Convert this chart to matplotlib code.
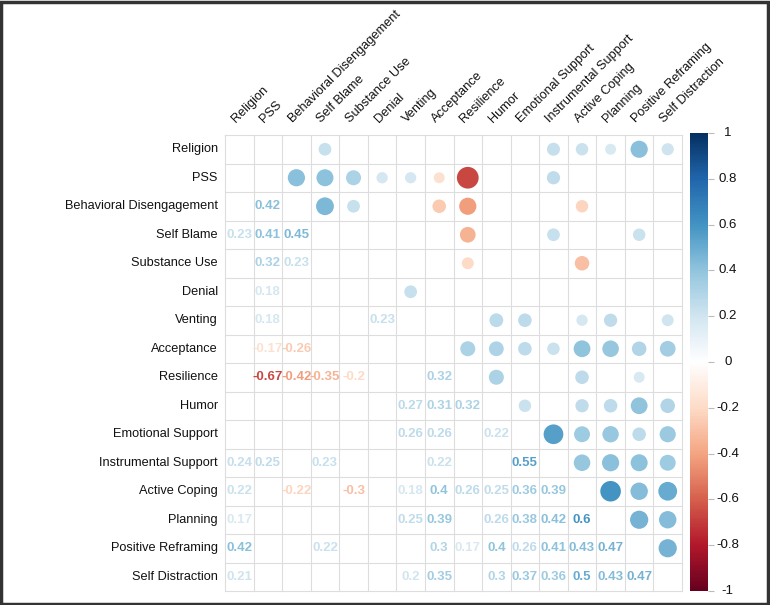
import numpy as np
import matplotlib
matplotlib.use("Agg")
import matplotlib.pyplot as plt
from matplotlib.colors import LinearSegmentedColormap, Normalize
from matplotlib.patches import Circle, Rectangle
from matplotlib.colorbar import ColorbarBase

variables = ["Religion", "PSS", "Behavioral Disengagement", "Self Blame", "Substance Use",
             "Denial", "Venting", "Acceptance", "Resilience", "Humor", "Emotional Support",
             "Instrumental Support", "Active Coping", "Planning", "Positive Reframing",
             "Self Distraction"]

# lower-triangle significant correlations: (row, col, r)
row_bd = [(2, 1, 0.42)]
row_sb = [(3, 0, 0.23), (3, 1, 0.41), (3, 2, 0.45)]
row_su = [(4, 1, 0.32), (4, 2, 0.23)]
row_denial = [(5, 1, 0.18)]
row_venting = [(6, 1, 0.18), (6, 5, 0.23)]
row_accept = [(7, 1, -0.17), (7, 2, -0.26)]
row_resil = [(8, 1, -0.67), (8, 2, -0.42), (8, 3, -0.35), (8, 4, -0.2), (8, 7, 0.32)]
row_humor = [(9, 6, 0.27), (9, 7, 0.31), (9, 8, 0.32)]
row_es = [(10, 6, 0.26), (10, 7, 0.26), (10, 9, 0.22)]
row_is = [(11, 0, 0.24), (11, 1, 0.25), (11, 3, 0.23), (11, 7, 0.22), (11, 10, 0.55)]
row_ac = [(12, 0, 0.22), (12, 2, -0.22), (12, 4, -0.3), (12, 6, 0.18), (12, 7, 0.4),
          (12, 8, 0.26), (12, 9, 0.25), (12, 10, 0.36), (12, 11, 0.39)]
row_plan = [(13, 0, 0.17), (13, 6, 0.25), (13, 7, 0.39), (13, 9, 0.26), (13, 10, 0.38),
            (13, 11, 0.42), (13, 12, 0.6)]
row_pr = [(14, 0, 0.42), (14, 3, 0.22), (14, 7, 0.3), (14, 8, 0.17), (14, 9, 0.4),
          (14, 10, 0.26), (14, 11, 0.41), (14, 12, 0.43), (14, 13, 0.47)]
row_sd = [(15, 0, 0.21), (15, 6, 0.2), (15, 7, 0.35), (15, 9, 0.3), (15, 10, 0.37),
          (15, 11, 0.36), (15, 12, 0.5), (15, 13, 0.43), (15, 14, 0.47)]

entries = [e for rows in (row_bd, row_sb, row_su, row_denial, row_venting, row_accept,
                          row_resil, row_humor, row_es, row_is, row_ac, row_plan, row_pr, row_sd)
           for e in rows]

cb_ticks = [1, 0.8, 0.6, 0.4, 0.2, 0, -0.2, -0.4, -0.6, -0.8, -1]

cols = ["#67001F", "#B2182B", "#D6604D", "#F4A582", "#FDDBC7", "#FFFFFF",
        "#D1E5F0", "#92C5DE", "#4393C3", "#2166AC", "#053061"]
cmap = LinearSegmentedColormap.from_list("corr", cols, N=256)
norm = Normalize(-1, 1)

n = len(variables)
W, H = 770, 605
fig = plt.figure(figsize=(W / 100, H / 100), dpi=100)
plt.rcParams['font.family'] = ['Liberation Sans', 'DejaVu Sans']

gx0, gx1, gy0, gy1 = 225, 682, 135, 591
ax = fig.add_axes([gx0 / W, 1 - gy1 / H, (gx1 - gx0) / W, (gy1 - gy0) / H])
ax.set_xlim(0, n)
ax.set_ylim(n, 0)
ax.axis("off")

for k in range(n + 1):
    ax.plot([0, n], [k, k], color="#DDDDDD", lw=0.8, zorder=1, clip_on=False)
    ax.plot([k, k], [0, n], color="#DDDDDD", lw=0.8, zorder=1, clip_on=False)

for (i, j, r) in entries:
    c = cmap(norm(r))
    ax.text(j + 0.5, i + 0.5, f"{r:g}", ha="center", va="center", color=c,
            fontsize=9.5, fontweight="bold", zorder=3)
    rad = 0.5 * np.sqrt(abs(r)) * 0.93
    ax.add_patch(Circle((i + 0.5, j + 0.5), rad, facecolor=c, edgecolor="none", zorder=2))

for k, name in enumerate(variables):
    ax.text(-0.25, k + 0.5, name, ha="right", va="center", fontsize=9.2, color="#111111",
            clip_on=False)
    ax.text(k + 0.45, -0.35, name, ha="left", va="bottom", rotation=45,
            rotation_mode="anchor", fontsize=9.2, color="#111111", clip_on=False)

cb_top, cb_bot = 133, 591
cax = fig.add_axes([690 / W, 1 - cb_bot / H, 18 / W, (cb_bot - cb_top) / H])
cb = ColorbarBase(cax, cmap=cmap, norm=norm, orientation="vertical")
cb.set_ticks(cb_ticks)
cb.set_ticklabels([""] * len(cb_ticks))
cb.outline.set_visible(False)
cax.tick_params(axis="y", length=4, color="#BBBBBB")
for t in cb_ticks:
    cax.text(2.1, t, f"{t:g}", transform=cax.get_yaxis_transform(), ha="center",
             va="center", fontsize=9.5, color="#111111")

fig.patches.append(Rectangle((0.0015, 0.002), 0.996, 0.995, transform=fig.transFigure,
                             fill=False, edgecolor="#333333", lw=2.5))

fig.savefig("out.png", dpi=100)
